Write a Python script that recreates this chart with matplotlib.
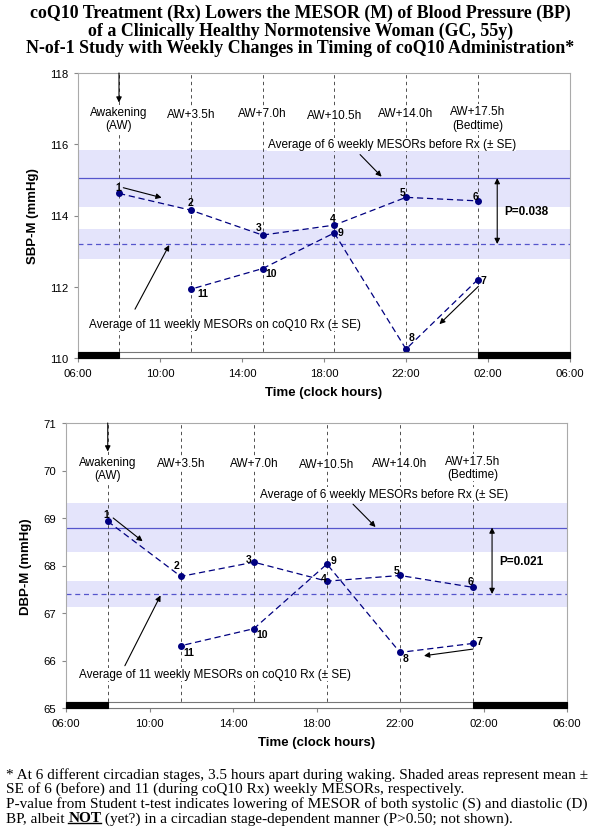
import matplotlib
matplotlib.use("Agg")
import matplotlib.pyplot as plt
from matplotlib.patches import Rectangle
from matplotlib.transforms import blended_transform_factory

plt.rcParams['font.family'] = ['Liberation Sans', 'DejaVu Sans']

# sampling stages, in hours after 06:00 (awakening = 08:00)
stage_hours = [2.0, 5.5, 9.0, 12.5, 16.0, 19.5]
stage_labels = ['Awakening\n(AW)', 'AW+3.5h', 'AW+7.0h', 'AW+10.5h', 'AW+14.0h', 'AW+17.5h\n(Bedtime)']
tick_hours = [0, 4, 8, 12, 16, 20, 24]
tick_labels = ['06:00', '10:00', '14:00', '18:00', '22:00', '02:00', '06:00']

# weeks 1-6 before Rx, weeks 7-11 on coQ10 (timing moved one stage each week)
weeks_before = [1, 2, 3, 4, 5, 6]
hours_before = [2.0, 5.5, 9.0, 12.5, 16.0, 19.5]
weeks_rx = [7, 8, 9, 10, 11]
hours_rx = [19.5, 16.0, 12.5, 9.0, 5.5]

sbp_before = [114.62, 114.15, 113.45, 113.73, 114.51, 114.41]
sbp_rx = [112.20, 110.25, 113.51, 112.51, 111.93]
sbp_mean = [115.05, 113.20]   # before Rx, on Rx
sbp_se = [0.80, 0.42]
sbp_p = 'P=0.038'

dbp_before = [68.93, 67.77, 68.07, 67.67, 67.79, 67.54]
dbp_rx = [66.36, 66.17, 68.03, 66.67, 66.31]
dbp_mean = [68.80, 67.40]
dbp_se = [0.51, 0.27]
dbp_p = 'P=0.021'

# sleep spans (hours after 06:00)
sleep_spans = [(0, 2.0), (19.5, 24)]

NAVY = '#000080'
BAND = '#e4e4fb'
MEANC = '#5555cc'


def arrow(ax, start, end, style='-|>'):
    ax.annotate('', xy=end, xytext=start,
                arrowprops=dict(arrowstyle=style, color='black', lw=0.8,
                                mutation_scale=8, shrinkA=0, shrinkB=0),
                zorder=6)


def draw_panel(ax, before, rx, mean, se, ptext, ylabel, ylim, yticks, lay):
    ax.set_xlim(0, 24)
    ax.set_ylim(*ylim)

    # shaded mean +/- SE bands
    for m, s in zip(mean, se):
        ax.axhspan(m - s, m + s, color=BAND, lw=0, zorder=1)
    ax.axhline(mean[0], color=MEANC, lw=0.9, zorder=2)
    ax.axhline(mean[1], color=MEANC, lw=0.9, ls=(0, (4, 3)), zorder=2)

    # stage lines
    for h in stage_hours:
        ax.axvline(h, color='#333333', lw=0.6, ls=(0, (4, 4)), zorder=2)

    ax.plot(hours_before, before, color=NAVY, lw=0.9, ls=(0, (5, 3)),
            marker='o', ms=4, zorder=4)
    ax.plot(hours_rx, rx, color=NAVY, lw=0.9, ls=(0, (5, 3)),
            marker='o', ms=4, zorder=4)

    for wk, h, v in zip(weeks_before + weeks_rx, hours_before + hours_rx, before + rx):
        dx, dy = lay['offsets'][wk]
        ax.annotate(str(wk), (h, v), xytext=(dx * 0.72, dy * 0.72),
                    textcoords='offset points', ha='center', va='center',
                    fontsize=7.5, fontweight='bold', zorder=7)

    # stage labels
    for h, lab, y in zip(stage_hours, stage_labels, lay['label_y']):
        ax.text(h, y, lab, ha='center', va='center', fontsize=8.5,
                linespacing=1.15, zorder=5,
                bbox=dict(facecolor='white', edgecolor='none', pad=0.6))
    arrow(ax, (2.0, ylim[1]), (2.0, lay['aw_tip']))

    ax.text(lay['before_txt'][0], lay['before_txt'][1],
            'Average of 6 weekly MESORs before Rx (\u00b1 SE)',
            ha='left', va='center', fontsize=8.5, zorder=5,
            bbox=dict(facecolor='white', edgecolor='none', pad=0.3))
    arrow(ax, *lay['before_arr'])
    ax.text(lay['rx_txt'][0], lay['rx_txt'][1],
            'Average of 11 weekly MESORs on coQ10 Rx (\u00b1 SE)',
            ha='left', va='center', fontsize=8.5, zorder=5,
            bbox=dict(facecolor='white', edgecolor='none', pad=0.3))
    arrow(ax, *lay['rx_arr'])
    arrow(ax, *lay['arr1'])
    arrow(ax, *lay['arr7'])

    arrow(ax, (lay['p_x'], mean[1]), (lay['p_x'], mean[0]), style='<|-|>')
    ax.text(lay['p_txt'][0], lay['p_txt'][1], ptext, fontsize=8.5,
            fontweight='bold', ha='left', va='center')

    # light/dark bar along the bottom
    tr = blended_transform_factory(ax.transData, ax.transAxes)
    ax.add_patch(Rectangle((0, 0), 24, 0.021, transform=tr, facecolor='white',
                           edgecolor='#777777', lw=0.8, zorder=6, clip_on=False))
    for a, b in sleep_spans:
        ax.add_patch(Rectangle((a, 0), b - a, 0.021, transform=tr,
                               facecolor='black', edgecolor='black', lw=0.8,
                               zorder=7, clip_on=False))

    ax.set_xticks(tick_hours)
    ax.set_xticklabels(tick_labels)
    ax.set_yticks(yticks)
    ax.tick_params(labelsize=8.2, color='#888888', length=3, pad=4)
    for s in ax.spines.values():
        s.set_color('#aaaaaa')
        s.set_linewidth(0.8)
    ax.set_ylabel(ylabel, fontsize=9.5, fontweight='bold', labelpad=8)
    ax.set_xlabel('Time (clock hours)', fontsize=9.5, fontweight='bold', labelpad=6)


fig = plt.figure(figsize=(6.01, 8.37), dpi=100)
ax1 = fig.add_axes([78 / 601, 1 - 359 / 837, 492 / 601, 285 / 837])
ax2 = fig.add_axes([66 / 601, 1 - 709 / 837, 501 / 601, 285 / 837])

sbp_layout = {
    'offsets': {1: (-1, 6), 2: (0, 8), 3: (-4, 8), 4: (-2, 7), 5: (-3, 5),
                6: (-2, 5), 7: (6, 0), 8: (6, 12), 9: (6, 1), 10: (9, -4),
                11: (12, -4)},
    'label_y': [116.72, 116.86, 116.88, 116.83, 116.88, 116.74],
    'aw_tip': 117.17,
    'before_txt': (9.25, 116.0),
    'before_arr': ((13.76, 115.71), (14.81, 115.09)),
    'rx_txt': (0.55, 110.95),
    'rx_arr': ((2.78, 111.37), (4.45, 113.17)),
    'arr1': ((2.21, 114.78), (4.08, 114.50)),
    'arr7': ((19.53, 112.01), (17.63, 110.95)),
    'p_x': 20.45,
    'p_txt': (20.78, 114.13),
}
dbp_layout = {
    'offsets': {1: (-1, 7), 2: (-4, 11), 3: (-5, 3), 4: (-3, 3), 5: (-3, 5),
                6: (-3, 6), 7: (6, 2), 8: (6, -6), 9: (7, 4), 10: (8, -5),
                11: (8, -6)},
    'label_y': [70.04, 70.16, 70.16, 70.14, 70.16, 70.06],
    'aw_tip': 70.4,
    'before_txt': (9.28, 69.51),
    'before_arr': ((13.75, 69.29), (14.83, 68.81)),
    'rx_txt': (0.64, 65.71),
    'rx_arr': ((2.82, 65.89), (4.53, 67.37)),
    'arr1': ((2.26, 69.0), (3.67, 68.51)),
    'arr7': ((19.49, 66.24), (17.15, 66.10)),
    'p_x': 20.41,
    'p_txt': (20.77, 68.09),
}

draw_panel(ax1, sbp_before, sbp_rx, sbp_mean, sbp_se, sbp_p, 'SBP-M (mmHg)',
           (110, 118), [110, 112, 114, 116, 118], sbp_layout)
draw_panel(ax2, dbp_before, dbp_rx, dbp_mean, dbp_se, dbp_p, 'DBP-M (mmHg)',
           (65, 71), [65, 66, 67, 68, 69, 70, 71], dbp_layout)

# title
title_lines = ['coQ10 Treatment (Rx) Lowers the MESOR (M) of Blood Pressure (BP)',
               'of a Clinically Healthy Normotensive Woman (GC, 55y)',
               'N-of-1 Study with Weekly Changes in Timing of coQ10 Administration*']
for line, ypx in zip(title_lines, [13.5, 31, 48.7]):
    fig.text(0.5, 1 - ypx / 837, line, ha='center', va='center', fontsize=12.9,
             fontweight='bold', family='Liberation Serif')

# footnote
serif = dict(fontsize=11, family='Liberation Serif', va='center', ha='left')
x0 = 6 / 601
fig.text(x0, 1 - 775 / 837, '* At 6 different circadian stages, 3.5 hours apart during waking. '
         'Shaded areas represent mean \u00b1', **serif)
fig.text(x0, 1 - 789.5 / 837, 'SE of 6 (before) and 11 (during coQ10 Rx) weekly MESORs, respectively.', **serif)
fig.text(x0, 1 - 804 / 837, 'P-value from Student t-test indicates lowering of MESOR of both '
         'systolic (S) and diastolic (D)', **serif)

y4 = 1 - 819 / 837
renderer = fig.canvas.get_renderer()
t1 = fig.text(x0, y4, 'BP, albeit ', **serif)
bb1 = t1.get_window_extent(renderer)
x1 = bb1.x1 / fig.bbox.width
t2 = fig.text(x1, y4, 'NOT', fontweight='bold', **serif)
bb2 = t2.get_window_extent(renderer)
x2 = bb2.x1 / fig.bbox.width
uy = (bb2.y0 + 1.5) / fig.bbox.height
fig.add_artist(plt.Line2D([x1, x2], [uy, uy], color='black', lw=1.0))
fig.text(x2, y4, ' (yet?) in a circadian stage-dependent manner (P>0.50; not shown).', **serif)

fig.savefig('out.png', dpi=100)
